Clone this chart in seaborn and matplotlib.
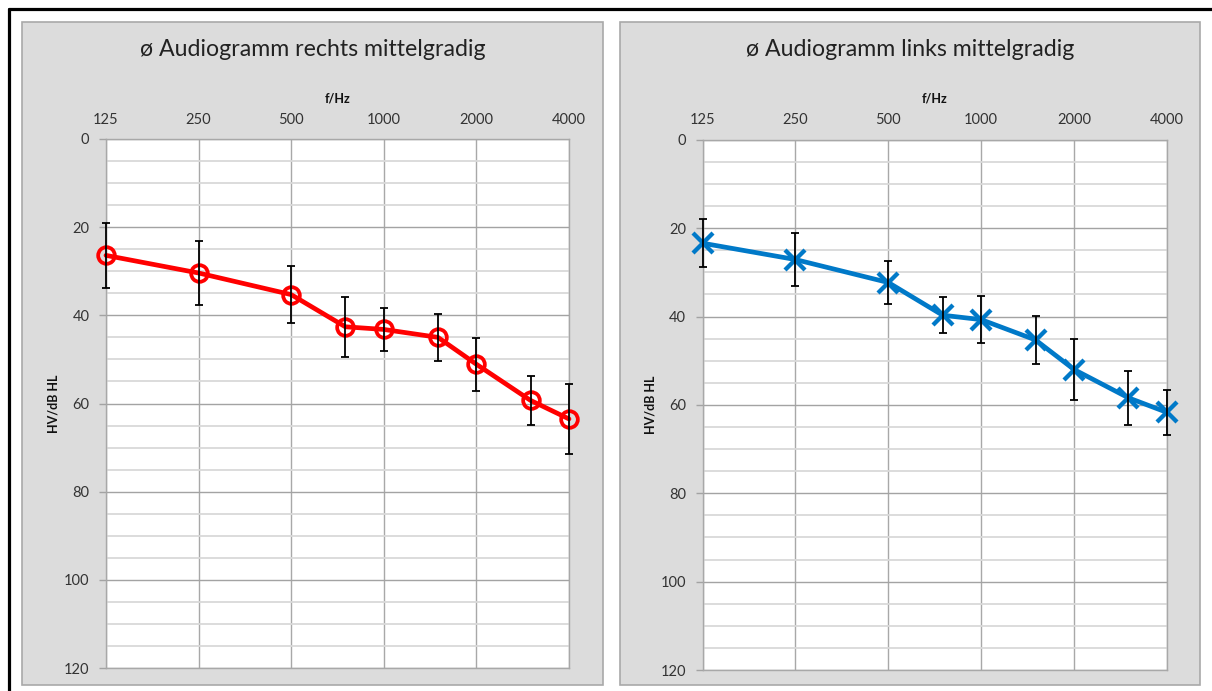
import matplotlib
matplotlib.use('Agg')
import matplotlib.pyplot as plt
import seaborn as sns
import pandas as pd
from matplotlib.patches import Rectangle
from matplotlib.lines import Line2D
from matplotlib.ticker import FixedLocator, MultipleLocator, NullLocator

freqs = [125, 250, 500, 750, 1000, 1500, 2000, 3000, 4000]
tick_freqs = [125, 250, 500, 1000, 2000, 4000]
tick_labels = ['125', '250', '500', '1000', '2000', '4000']

# mean hearing loss and error (dB HL)
right_mean = [26.4, 30.4, 35.3, 42.6, 43.2, 45.0, 51.1, 59.3, 63.5]
right_err = [7.3, 7.25, 6.55, 6.8, 4.95, 5.3, 6.0, 5.6, 7.9]
left_mean = [23.4, 27.1, 32.3, 39.7, 40.7, 45.3, 52.0, 58.4, 61.7]
left_err = [5.5, 5.9, 4.9, 4.1, 5.4, 5.5, 6.85, 6.15, 5.1]

sns.set_theme(style='white')
plt.rcParams['font.family'] = ['Lato', 'DejaVu Sans']

W, H = 1212, 691
fig = plt.figure(figsize=(W / 100, H / 100), dpi=100)
fig.patch.set_facecolor('white')


def fx(px):
    return px / W


def fy(py):
    return 1 - py / H


# grey chart panels
for x0, x1 in [(22, 603), (620, 1200)]:
    fig.add_artist(Rectangle((fx(x0), fy(685)), fx(x1 - x0), (685 - 22) / H,
                             transform=fig.transFigure, facecolor='#dcdcdc',
                             edgecolor='#a9a9a9', lw=1.2, zorder=-5))

# black frame on top and left
fig.add_artist(Line2D([fx(8.5), 1], [fy(8.5), fy(8.5)], transform=fig.transFigure,
                      color='black', lw=2.3))
fig.add_artist(Line2D([fx(8.5), fx(8.5)], [fy(8.5), 0], transform=fig.transFigure,
                      color='black', lw=2.3))


def audiogram(rect, mean, err, color, marker, title, cx):
    ax = fig.add_axes(rect)
    ax.set_facecolor('white')
    df = pd.DataFrame({'f': freqs, 'db': mean})
    if marker == 'o':
        mk = dict(marker='o', markersize=12, markerfacecolor='none',
                  markeredgecolor=color, markeredgewidth=2.7)
    else:
        mk = dict(marker='x', markersize=14, markeredgecolor=color,
                  markeredgewidth=3.1)
    sns.lineplot(data=df, x='f', y='db', ax=ax, color=color, lw=3.4,
                 clip_on=False, zorder=4, **mk)
    ax.errorbar(freqs, mean, yerr=err, fmt='none', ecolor='black',
                elinewidth=1.3, capsize=2.6, capthick=1.3, zorder=5,
                clip_on=False)

    ax.set_xscale('log', base=2)
    ax.set_xlim(125, 4000)
    ax.xaxis.set_major_locator(FixedLocator(tick_freqs))
    ax.xaxis.set_minor_locator(NullLocator())
    ax.set_xticklabels(tick_labels)
    ax.xaxis.tick_top()
    ax.xaxis.set_label_position('top')

    ax.set_ylim(120, 0)
    ax.yaxis.set_major_locator(MultipleLocator(20))
    ax.yaxis.set_minor_locator(MultipleLocator(5))

    ax.grid(True, which='major', axis='y', color='#a3a3a3', lw=1.0)
    ax.grid(True, which='minor', axis='y', color='#d9d9d9', lw=1.3)
    ax.grid(True, which='major', axis='x', color='#a8a8a8', lw=1.0)
    ax.set_axisbelow(True)

    ax.tick_params(axis='x', which='both', length=0, pad=9,
                   labelsize=10.5, labelcolor='#333333')
    ax.tick_params(axis='y', which='major', length=5, width=1,
                   color='#a3a3a3', pad=7, labelsize=10.5, labelcolor='#333333',
                   left=True)
    ax.tick_params(axis='y', which='minor', length=0)

    for s in ax.spines.values():
        s.set_color('#a8a8a8')
        s.set_linewidth(1.0)

    ax.set_xlabel('f/Hz', fontsize=9, fontweight='bold', color='#111111',
                  labelpad=7.5)
    ax.set_ylabel('HV/dB HL', fontsize=9, fontweight='bold', color='#111111',
                  labelpad=3)
    fig.text(cx, fy(50), title, ha='center', va='center', fontsize=16.7,
             color='#222222')
    return ax


audiogram([fx(106), fy(668), fx(569 - 106), (668 - 139) / H], right_mean,
          right_err, '#ff0000', 'o', 'ø Audiogramm rechts mittelgradig',
          fx(312.5))
audiogram([fx(702.5), fy(670), fx(1167 - 702.5), (670 - 139.8) / H], left_mean,
          left_err, '#0079c8', 'x', 'ø Audiogramm links mittelgradig',
          fx(910))

fig.savefig('out.png', dpi=100)
